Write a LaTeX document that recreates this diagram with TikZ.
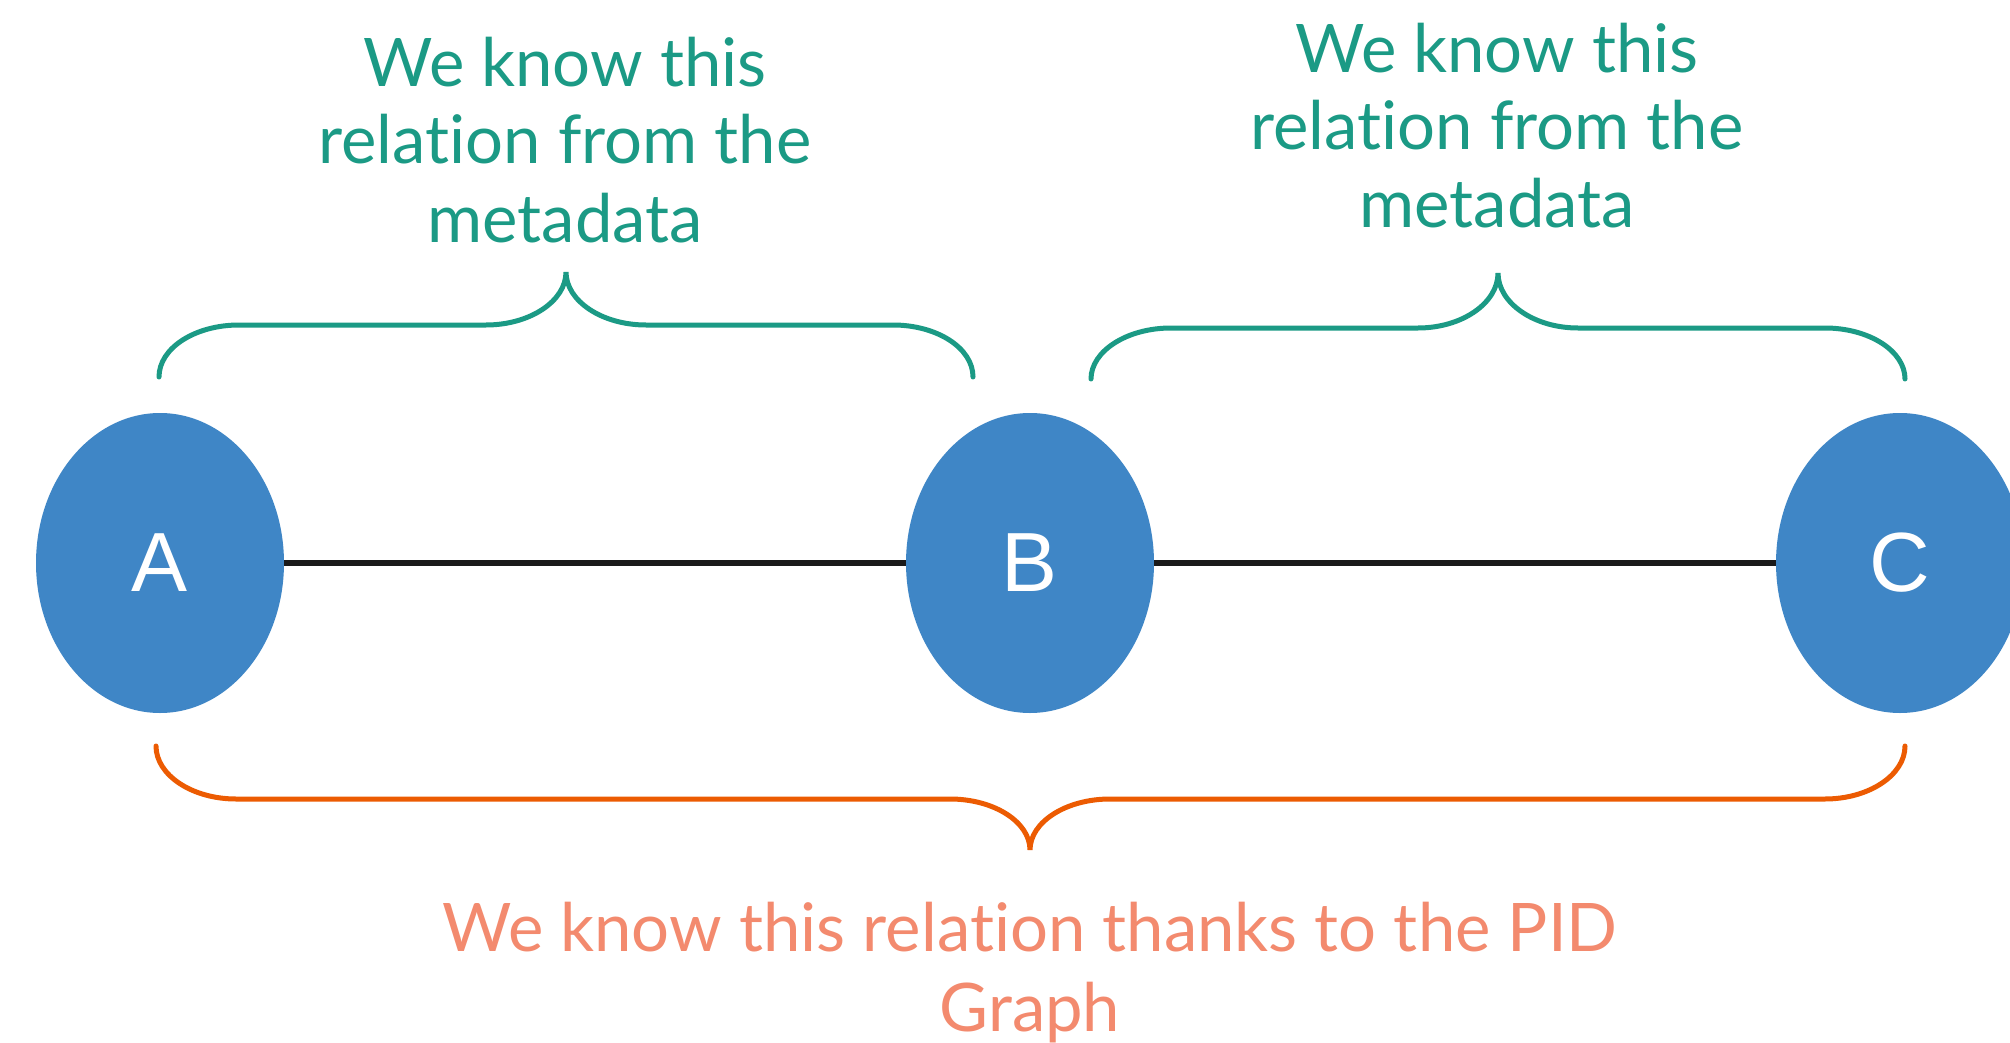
\documentclass[tikz,border=0pt]{standalone}
\usepackage{fontspec}
\setmainfont{Lato}[Ligatures=NoCommon]
\newfontfamily\letterfont{Liberation Sans}
\usetikzlibrary{shapes.geometric}
\definecolor{nodeblue}{HTML}{3F86C6}
\definecolor{tealc}{HTML}{1B9A85}
\definecolor{orangec}{HTML}{EC5B02}
\definecolor{salmonc}{HTML}{F38A6E}
\definecolor{linec}{HTML}{1A1A1A}
\tikzset{
  vertex/.style={ellipse, fill=nodeblue, draw=none, minimum width=248pt, minimum height=300pt, inner sep=0pt, text=white, font=\letterfont\fontsize{84}{84}\selectfont},
  link/.style={draw=linec, line width=6pt},
  tealbrace/.style={draw=tealc, line width=5pt, line cap=round},
  orangebrace/.style={draw=orangec, line width=5pt, line cap=round},
  toplabel/.style={text=tealc, align=center, anchor=base, inner sep=0pt, font=\fontsize{67}{78}\selectfont},
  botlabel/.style={text=salmonc, align=center, anchor=base, inner sep=0pt, font=\fontsize{67}{80}\selectfont}
}
\begin{document}
\begin{tikzpicture}[x=1pt,y=-1pt]
\clip (0,0) rectangle (2010,1043);
\fill[white] (0,0) rectangle (2010,1043);
\node[vertex] (A) at (160,563) {A};
\node[vertex] (B) at (1030,563) {B};
\node[vertex] (C) at (1900,563) {C};
\draw[link] (A) -- (B);
\draw[link] (B) -- (C);
\draw[tealbrace] (159,377) .. controls (159,348) and (195,325) .. (239,325) -- (486,325) .. controls (530,325) and (566,301) .. (566,272) .. controls (566,301) and (602,325) .. (646,325) -- (893,325) .. controls (937,325) and (973,348) .. (973,377);
\draw[tealbrace] (1091,379) .. controls (1091,351) and (1127,328) .. (1171,328) -- (1418,328) .. controls (1462,328) and (1498,303) .. (1498,273) .. controls (1498,303) and (1534,328) .. (1578,328) -- (1825,328) .. controls (1869,328) and (1905,351) .. (1905,379);
\draw[orangebrace] (156,746) .. controls (156,775) and (192,799) .. (236,799) -- (950,799) .. controls (994,799) and (1030,822) .. (1030,850) .. controls (1030,822) and (1066,799) .. (1110,799) -- (1825,799) .. controls (1869,799) and (1905,775) .. (1905,746);
\node[toplabel] (t1) at (565,242) {We know this\\relation from the\\metadata};
\node[toplabel] (t2) at (1497,228) {We know this\\relation from the\\metadata};
\node[botlabel] (t3) at (1030,1031) {We know this relation thanks to the PID\\Graph};
\end{tikzpicture}
\end{document}
